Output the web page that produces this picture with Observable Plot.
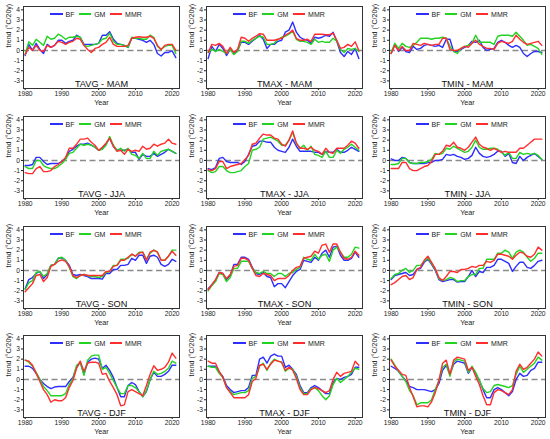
<!DOCTYPE html>
<html>
<head>
<meta charset="utf-8">
<script src="https://cdn.jsdelivr.net/npm/d3@7"></script>
<script src="https://cdn.jsdelivr.net/npm/@observablehq/plot@0.6"></script>
<style>
  html, body { margin: 0; padding: 0; background: #fff; }
  #chart { position: relative; width: 550px; height: 439px; overflow: hidden; font-family: "Liberation Sans", Arial, sans-serif; }
  .panel { position: absolute; width: 183px; height: 110px; }
  .panel svg { overflow: visible; }
  .legend { position: absolute; left: 50px; top: 9px; height: 10px; display: flex; align-items: center; font-size: 7px; color: #222; white-space: nowrap; }
  .legend .sw { display: inline-block; width: 12.5px; height: 1.5px; margin-right: 3px; }
  .legend .lb { margin-right: 4.2px; }
</style>
</head>
<body>
<div id="chart"></div>
<script>
// ---------- data ----------
const years = d3.range(1980, 2022);
const xTicks = [1980, 1990, 2000, 2010, 2020];
const yTicks = [-3, -2, -1, 0, 1, 2, 3, 4];
const variables = ["TAVG", "TMAX", "TMIN"];
const seasons = ["MAM", "JJA", "SON", "DJF"];
const seriesNames = ["BF", "GM", "MMR"];
const seriesColors = ["#2e2eff", "#22d322", "#ff2e2e"];

// TAVG - MAM
const tavg_mam_BF = [-0.5,0.6,0.0,0.7,0.1,-0.3,0.6,0.3,0.5,1.0, 1.0,0.7,0.9,1.0,1.5,1.3,0.6,0.6,0.6,0.6, 0.7,1.5,1.5,1.85,1.1,0.7,0.6,0.5,0.3,1.2, 1.2,1.1,1.0,0.8,1.0,0.6,-0.3,-0.55,-0.2,-0.2, -0.05,-0.7];
const tavg_mam_GM = [-0.4,0.85,0.5,1.1,0.8,0.5,1.4,1.1,1.2,1.6, 1.4,1.1,1.3,1.3,1.4,1.3,0.5,0.4,0.5,0.6, 0.7,1.1,1.2,1.7,0.9,0.6,0.6,0.5,0.3,1.3, 1.2,1.2,1.1,1.1,1.5,1.3,0.4,0.1,0.4,0.5, 0.5,-0.3];
const tavg_mam_MMR = [-0.4,0.3,0.0,0.5,0.0,-0.1,0.5,0.3,0.5,0.9, 0.8,0.6,0.8,0.9,1.2,1.1,0.5,0.1,-0.2,0.2, 0.3,0.6,0.8,1.3,0.6,0.4,0.4,0.4,0.5,1.2, 1.3,1.35,1.3,1.3,1.4,1.2,0.5,0.1,0.5,0.6, 0.6,0.0];
// TMAX - MAM
const tmax_mam_BF = [-0.8,0.4,-0.1,0.6,0.2,-0.5,0.1,-0.3,0.0,0.8, 0.8,0.6,0.9,1.2,1.5,1.1,0.2,0.6,0.6,0.9, 1.0,1.8,2.0,2.8,1.8,1.3,1.1,1.0,0.7,1.3, 1.2,1.3,1.5,1.4,1.8,0.9,-0.2,-0.6,-0.1,-0.4, 0.2,-0.8];
const tmax_mam_GM = [-0.2,0.1,-0.1,0.1,-0.1,-0.3,0.1,-0.4,-0.1,0.9, 0.9,0.7,1.0,1.2,1.4,1.3,0.6,0.6,0.7,1.1, 1.3,1.4,1.6,1.9,1.1,0.9,0.9,0.8,0.6,1.1, 0.8,0.9,0.8,0.8,1.2,0.9,0.1,-0.2,0.2,0.1, 0.2,-0.1];
const tmax_mam_MMR = [-0.2,0.6,0.5,0.7,0.4,-0.3,0.3,-0.2,0.1,1.3, 1.2,0.9,1.2,1.4,1.65,1.6,1.0,1.0,1.0,1.1, 1.2,1.5,1.7,2.0,1.2,1.0,1.0,1.1,0.9,1.6, 1.6,1.6,1.55,1.55,1.7,1.0,0.2,0.3,0.6,0.4, 0.85,0.0];
// TMIN - MAM
const tmin_mam_BF = [-0.3,0.6,-0.1,0.3,-0.1,-0.2,0.4,0.1,0.2,0.5, 0.6,0.5,0.4,0.5,0.3,1.1,1.1,-0.1,-0.1,0.1, 0.3,0.5,0.9,0.8,1.0,0.3,0.0,0.1,0.2,0.8, 1.0,0.8,0.5,0.3,0.5,0.3,-0.3,-0.6,-0.3,-0.1, -0.1,-0.2];
const tmin_mam_GM = [-0.2,0.7,0.2,0.7,0.4,0.3,0.5,0.8,1.2,1.2, 1.2,1.1,1.2,1.2,1.3,1.2,0.4,-0.1,-0.3,0.2, 0.4,0.5,0.7,1.5,0.8,0.8,0.8,0.8,0.6,1.4, 1.5,1.5,1.5,1.4,1.8,1.4,1.0,0.5,0.6,0.4, 0.2,-0.4];
const tmin_mam_MMR = [-0.3,0.5,0.0,0.4,0.0,0.0,0.7,0.6,0.5,0.7, 0.6,0.5,0.6,0.6,1.2,1.2,0.1,0.0,0.0,0.2, 0.4,0.3,0.7,1.0,0.6,0.4,0.2,0.2,0.1,0.7, 0.9,0.8,0.7,0.9,1.5,1.1,0.8,0.6,0.7,0.8, 0.9,0.5];
// TAVG - JJA
const tavg_jja_BF = [-0.5,-0.5,-0.4,0.3,0.3,-0.1,-0.4,-0.3,-0.3,-0.3, -0.1,0.2,0.9,1.1,1.4,1.6,1.6,1.7,1.5,1.3, 1.0,1.2,1.6,2.2,1.4,1.0,1.0,1.0,1.1,0.8, 0.8,0.1,0.6,0.4,0.4,0.7,0.4,0.6,0.8,1.1, 0.9,0.7];
const tavg_jja_GM = [-0.6,-0.8,-0.8,0.0,0.0,-0.5,-0.7,-0.8,-0.8,-0.6, -0.3,0.1,0.7,0.8,1.2,1.6,1.5,1.6,1.5,1.3, 1.0,1.1,1.5,2.35,1.5,1.0,1.2,0.9,1.2,0.6, 0.5,0.2,0.7,0.2,0.2,0.9,0.5,0.9,1.0,1.1, 0.9,0.7];
const tavg_jja_MMR = [-1.2,-1.3,-1.3,-0.8,-0.6,-1.1,-1.1,-1.0,-0.6,-0.4, -0.1,0.3,1.2,1.2,1.6,2.1,2.1,2.2,1.8,1.5, 1.0,1.3,1.7,2.2,1.4,0.9,1.0,0.6,1.1,0.9, 1.0,0.9,1.4,1.1,1.2,1.6,1.4,1.6,1.7,2.1, 1.7,1.6];
// TMAX - JJA
const tmax_jja_BF = [-0.8,-0.9,-0.7,0.2,0.3,-0.1,-0.2,-0.2,-0.2,-0.4, -0.1,0.6,1.4,1.5,1.9,1.9,1.8,1.8,1.3,1.0, 0.9,0.8,1.3,2.1,1.4,0.9,0.9,0.9,0.9,0.8, 0.8,0.6,0.9,0.8,0.8,1.1,0.8,0.8,1.0,1.3, 1.1,0.9];
const tmax_jja_GM = [-1.0,-1.2,-1.1,-0.6,-0.6,-1.0,-1.2,-1.2,-1.1,-1.0, -0.6,-0.3,1.0,1.1,1.3,2.1,2.2,2.3,2.1,1.9, 1.5,1.5,2.0,2.8,1.7,1.2,1.5,1.0,1.4,0.6, 0.5,0.3,0.9,0.3,0.3,1.0,0.7,1.1,1.3,1.6, 1.3,1.0];
const tmax_jja_MMR = [-0.9,-1.0,-0.8,-0.1,-0.1,-0.8,-0.6,-0.5,-0.4,-0.3, 0.1,0.5,1.6,1.7,2.2,2.6,2.5,2.5,2.2,2.1, 1.6,1.4,2.0,2.9,1.7,1.2,1.2,1.1,1.3,1.0, 0.9,0.6,1.2,0.8,0.7,1.2,1.2,1.2,1.5,1.9, 1.7,1.2];
// TMIN - JJA
const tmin_jja_BF = [0.15,0.0,0.0,0.3,0.2,-0.2,-0.3,-0.3,-0.3,-0.3, -0.2,-0.2,0.0,0.0,0.1,0.6,0.5,0.6,0.4,0.3, 0.1,0.2,0.5,1.3,0.7,0.4,0.3,0.4,0.6,0.9, 0.9,0.4,0.7,-0.2,-0.3,0.4,0.0,0.3,0.5,0.7, 0.4,0.1];
const tmin_jja_GM = [-0.4,-0.4,-0.3,0.2,0.2,-0.2,-0.3,-0.3,-0.2,-0.2, -0.1,0.1,0.7,0.6,0.7,1.2,1.1,1.4,1.2,1.0, 0.8,0.9,1.3,2.0,1.3,1.1,1.1,1.2,1.2,1.1, 0.8,0.5,0.8,0.2,0.2,0.8,0.6,0.7,0.6,0.7, 0.5,0.1];
const tmin_jja_MMR = [-0.8,-0.8,-0.8,-0.2,-0.2,-0.8,-1.0,-1.0,-0.8,-0.6, -0.5,-0.1,0.6,0.6,0.9,1.5,1.4,1.8,1.3,1.2, 1.0,1.3,1.8,2.3,1.6,1.3,1.2,1.0,1.2,1.0, 0.8,0.9,0.8,0.8,0.8,1.2,1.2,1.5,1.8,2.1, 2.1,2.1];
// TAVG - SON
const tavg_son_BF = [-1.8,-0.9,-0.7,-0.3,-0.1,-0.8,-0.4,0.5,0.6,1.2, 1.25,1.0,0.5,-0.4,-0.5,-0.4,-0.5,-0.6,-0.8,-0.8, -0.8,-0.85,-0.3,-0.3,0.1,0.1,0.5,0.5,0.6,1.2, 1.0,1.5,1.5,0.7,1.4,1.5,1.3,0.6,0.4,0.6, 1.1,0.9];
const tavg_son_GM = [-1.9,-1.2,-1.0,-0.2,-0.1,-0.6,-0.3,0.5,0.6,1.2, 1.3,1.0,0.3,-0.6,-0.8,-0.5,-0.4,-0.5,-0.6,-0.6, -0.7,-0.6,-0.2,-0.1,0.5,0.5,1.1,1.1,1.2,1.6, 1.4,1.8,1.8,1.1,1.7,2.0,1.8,1.0,1.0,1.4, 2.0,2.0];
const tavg_son_MMR = [-2.1,-1.7,-1.3,-0.5,-0.4,-1.1,-0.7,0.4,0.6,0.9, 1.05,0.9,0.4,-0.5,-0.7,-0.5,-0.4,-0.5,-0.5,-0.5, -0.5,-0.5,-0.1,-0.1,0.4,0.5,1.0,1.0,1.3,1.6, 1.4,1.7,1.8,1.0,1.8,2.0,1.8,1.0,1.0,1.4, 1.9,1.5];
// TMAX - SON
const tmax_son_BF = [-1.8,-1.4,-1.0,-0.2,-0.3,-0.9,-0.5,0.6,0.6,1.3, 1.3,1.1,0.3,-0.3,-0.4,-0.2,-0.6,-0.7,-1.6,-1.3, -1.3,-1.7,-1.1,-0.5,-0.1,0.1,1.0,0.9,0.8,1.3, 1.0,1.7,2.0,1.3,2.3,2.4,1.5,1.0,1.0,1.2, 1.8,1.3];
const tmax_son_GM = [-2.0,-1.5,-1.1,-0.3,-0.4,-1.1,-0.7,0.2,0.2,0.9, 0.9,0.9,0.2,-0.2,-0.3,-0.1,-0.3,-0.3,-0.6,-0.3, -0.3,-0.6,-0.3,-0.2,0.1,0.3,1.3,1.1,1.0,1.6, 1.1,1.5,1.6,0.9,2.0,2.3,1.8,1.3,1.3,1.6, 2.3,2.2];
const tmax_son_MMR = [-1.9,-1.4,-0.9,-0.2,-0.3,-0.8,-0.4,0.4,0.5,1.2, 1.2,1.0,0.2,-0.5,-0.6,-0.3,-0.4,-0.5,-1.0,-0.8, -0.8,-0.8,-0.5,0.0,0.3,0.4,1.2,1.3,1.4,1.9, 1.7,2.5,2.6,1.8,2.6,2.6,1.8,1.2,1.1,1.3, 1.9,1.5];
// TMIN - SON
const tmin_son_BF = [-0.9,-0.5,-0.4,-0.3,-0.2,-0.5,-0.4,0.1,0.2,0.8, 1.1,0.6,0.0,-0.9,-1.1,-1.0,-0.9,-0.9,-1.15,-1.1, -1.1,-0.6,0.0,-0.6,-0.1,-0.2,0.3,0.3,0.5,1.1, 1.1,0.9,0.7,-0.1,0.4,0.8,0.8,0.3,0.2,0.5, 0.9,1.0];
const tmin_son_GM = [-0.8,-0.4,-0.3,0.0,0.2,-0.2,0.0,0.5,0.5,0.9, 1.2,0.7,0.1,-0.8,-1.0,-0.9,-0.7,-0.8,-1.1,-1.0, -1.0,-0.6,-0.4,-0.4,0.2,0.2,1.1,1.1,1.1,1.7, 1.7,2.0,1.8,1.2,1.8,2.0,1.8,1.3,0.9,1.2, 1.7,1.7];
const tmin_son_MMR = [-1.4,-1.2,-0.9,-0.6,-0.5,-0.9,-0.7,0.1,0.3,1.0, 1.4,0.8,0.2,-0.7,-1.0,-0.6,-0.1,-0.1,-0.2,0.1, 0.1,0.2,0.4,0.3,0.5,0.5,0.9,0.8,1.0,1.6, 1.6,1.5,1.4,1.1,1.5,1.8,1.7,1.4,1.3,1.6, 2.3,2.0];
// TAVG - DJF
const tavg_djf_BF = [1.3,1.3,1.1,0.6,0.0,-0.4,-0.7,-0.9,-0.75,-0.7, -0.7,-0.7,-0.2,0.2,1.2,1.7,0.5,1.7,2.0,2.1, 2.0,1.1,1.4,0.9,0.2,-0.8,-1.7,-1.7,-0.6,-0.3, -0.5,-1.2,-1.7,-1.2,0.0,0.7,0.3,0.3,0.5,0.8, 1.4,1.4];
const tavg_djf_GM = [1.9,1.7,1.3,0.7,0.0,-0.7,-1.1,-1.6,-1.6,-1.6, -1.6,-1.4,-0.5,0.1,1.4,1.7,0.4,1.9,2.3,2.4, 2.4,1.0,1.2,0.6,-0.1,-0.8,-1.4,-1.4,-0.6,-0.6, -0.8,-1.2,-1.7,-1.1,0.0,0.8,0.5,0.6,0.8,1.1, 1.8,1.6];
const tavg_djf_MMR = [1.9,1.8,1.4,0.6,-0.2,-1.0,-1.5,-2.25,-2.0,-2.1, -2.1,-1.8,-0.8,-0.1,1.1,1.8,0.8,1.6,1.7,1.7, 1.6,0.5,0.6,-0.2,-0.8,-1.5,-2.6,-2.5,-1.2,-1.0, -1.2,-1.4,-1.6,-0.6,0.5,1.35,0.9,1.0,1.2,1.7, 2.6,2.1];
// TMAX - DJF
const tmax_djf_BF = [1.3,1.3,1.3,0.7,0.3,-0.6,-1.0,-1.3,-1.2,-1.1, -1.1,-0.8,0.4,0.4,2.0,2.2,1.6,2.3,2.5,2.3, 2.3,1.2,1.4,1.0,0.5,-0.6,-1.3,-1.3,-0.8,-0.6, -0.8,-1.1,-1.4,-1.4,-0.3,0.1,0.0,0.2,0.3,0.5, 1.2,1.2];
const tmax_djf_GM = [1.3,1.2,1.2,0.6,0.2,-0.8,-1.2,-1.5,-1.4,-1.3, -1.3,-1.1,0.1,0.3,1.3,1.6,0.9,1.6,2.0,1.8, 1.7,0.8,1.1,1.0,0.3,-0.8,-1.4,-1.4,-0.9,-0.8, -1.1,-1.6,-2.0,-1.6,-0.5,0.1,-0.3,0.0,0.3,0.7, 1.1,1.0];
const tmax_djf_MMR = [1.8,1.6,1.6,0.8,0.2,-0.8,-1.3,-1.8,-1.8,-1.8, -1.8,-1.5,-0.2,0.1,1.4,1.5,1.0,1.5,1.9,1.8, 1.7,0.9,1.2,0.9,0.1,-1.0,-1.5,-1.5,-1.0,-0.8, -0.9,-1.1,-1.3,-1.1,0.0,0.7,0.3,0.6,0.7,0.8, 1.8,1.4];
// TMIN - DJF
const tmin_djf_BF = [1.3,1.1,0.8,0.3,-0.1,-0.7,-0.8,-1.0,-1.0,-1.0, -1.1,-1.2,-1.0,-0.4,0.9,1.4,0.5,1.5,1.8,1.7, 1.6,0.6,1.2,0.6,-0.1,-1.0,-1.8,-1.8,-1.0,-0.8, -1.0,-1.3,-1.6,-1.2,0.0,0.6,0.3,0.4,0.9,1.1, 1.7,1.7];
const tmin_djf_GM = [2.0,1.4,0.8,0.3,-0.2,-1.1,-1.6,-2.5,-2.3,-2.3, -2.3,-2.0,-1.0,-0.1,1.2,1.5,0.3,1.7,2.0,1.9, 1.8,0.7,1.3,0.7,-0.1,-0.9,-1.3,-1.2,-0.6,-0.5, -0.6,-0.7,-0.8,-0.6,0.5,1.3,0.7,1.0,1.3,1.6, 2.2,1.9];
const tmin_djf_MMR = [1.9,1.3,0.9,0.5,0.4,-0.8,-1.7,-2.7,-2.6,-2.6, -2.7,-2.2,-1.3,-0.1,1.6,1.9,0.5,1.9,2.2,2.1, 2.0,0.9,1.2,0.3,-0.5,-1.6,-2.5,-2.5,-1.3,-1.0, -1.1,-1.3,-1.5,-1.0,0.8,1.5,1.0,1.2,1.6,2.0, 2.7,2.3];

// ---------- panel table ----------
const panels = [
  {v: "TAVG", s: "MAM", BF: tavg_mam_BF, GM: tavg_mam_GM, MMR: tavg_mam_MMR},
  {v: "TMAX", s: "MAM", BF: tmax_mam_BF, GM: tmax_mam_GM, MMR: tmax_mam_MMR},
  {v: "TMIN", s: "MAM", BF: tmin_mam_BF, GM: tmin_mam_GM, MMR: tmin_mam_MMR},
  {v: "TAVG", s: "JJA", BF: tavg_jja_BF, GM: tavg_jja_GM, MMR: tavg_jja_MMR},
  {v: "TMAX", s: "JJA", BF: tmax_jja_BF, GM: tmax_jja_GM, MMR: tmax_jja_MMR},
  {v: "TMIN", s: "JJA", BF: tmin_jja_BF, GM: tmin_jja_GM, MMR: tmin_jja_MMR},
  {v: "TAVG", s: "SON", BF: tavg_son_BF, GM: tavg_son_GM, MMR: tavg_son_MMR},
  {v: "TMAX", s: "SON", BF: tmax_son_BF, GM: tmax_son_GM, MMR: tmax_son_MMR},
  {v: "TMIN", s: "SON", BF: tmin_son_BF, GM: tmin_son_GM, MMR: tmin_son_MMR},
  {v: "TAVG", s: "DJF", BF: tavg_djf_BF, GM: tavg_djf_GM, MMR: tavg_djf_MMR},
  {v: "TMAX", s: "DJF", BF: tmax_djf_BF, GM: tmax_djf_GM, MMR: tmax_djf_MMR},
  {v: "TMIN", s: "DJF", BF: tmin_djf_BF, GM: tmin_djf_GM, MMR: tmin_djf_MMR}
];

const fmt = d => String(d);

function makePanel(p) {
  const rows = [];
  for (const k of seriesNames) p[k].forEach((val, i) => rows.push({year: years[i], value: val, series: k}));
  return Plot.plot({
    width: 183, height: 110,
    marginLeft: 23, marginRight: 4, marginTop: 6, marginBottom: 22,
    style: {fontFamily: "'Liberation Sans', Arial, sans-serif", fontSize: "6.7px", color: "#1a1a1a", background: "transparent", overflow: "visible"},
    x: {domain: [1979.55, 2022]},
    y: {domain: [-3.75, 4.33]},
    color: {domain: seriesNames, range: seriesColors},
    marks: [
      Plot.axisX({ticks: xTicks, tickFormat: fmt, tickSize: 2, tickPadding: 1, label: null}),
      Plot.axisY({ticks: yTicks, tickFormat: fmt, tickSize: 2, tickPadding: 1.5, label: null}),
      Plot.ruleY([0], {stroke: "#8a8a8a", strokeWidth: 1.4, strokeDasharray: "6,3.5"}),
      Plot.line(rows, {x: "year", y: "value", z: "series", stroke: "series", strokeWidth: 1.4}),
      Plot.frame({stroke: "#333", strokeWidth: 1}),
      Plot.text([`${p.v} - ${p.s}`], {frameAnchor: "bottom", lineAnchor: "middle", dy: -4, fontSize: 9.2, fill: "#111"}),
      Plot.text(["Year"], {frameAnchor: "bottom", lineAnchor: "middle", dy: 14, fontSize: 7.2, fill: "#222"}),
      Plot.text(["trend (°C/20y)"], {frameAnchor: "left", lineAnchor: "middle", dx: -15, rotate: -90, fontSize: 7, fill: "#222"})
    ]
  });
}

const chart = document.getElementById("chart");
const rowTops = [0, 110, 220, 329];
panels.forEach((p, i) => {
  const col = i % 3, row = Math.floor(i / 3);
  const div = document.createElement("div");
  div.className = "panel";
  div.style.left = (col * 183) + "px";
  div.style.top = rowTops[row] + "px";
  div.appendChild(makePanel(p));
  const lg = document.createElement("div");
  lg.className = "legend";
  seriesNames.forEach((name, j) => {
    const sw = document.createElement("span");
    sw.className = "sw";
    sw.style.background = seriesColors[j];
    const lb = document.createElement("span");
    lb.className = "lb";
    lb.textContent = name;
    lg.appendChild(sw);
    lg.appendChild(lb);
  });
  div.appendChild(lg);
  chart.appendChild(div);
});
</script>
</body>
</html>
